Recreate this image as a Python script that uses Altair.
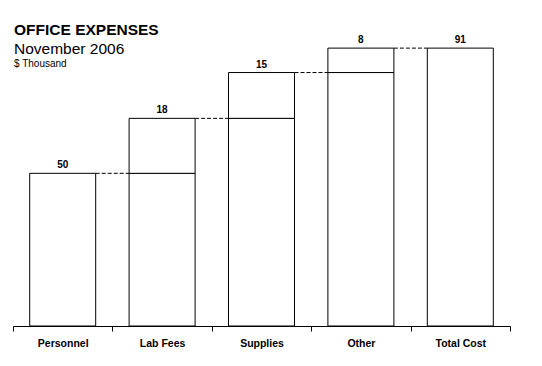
import altair as alt
import pandas as pd

categories = ["Personnel", "Lab Fees", "Supplies", "Other", "Total Cost"]
values = [50, 18, 15, 8, 91]
is_total = [False, False, False, False, True]

title_main = "OFFICE EXPENSES"
title_sub = "November 2006"
title_unit = "$ Thousand"

FONT = "Liberation Sans"
BAR_FRAC = 0.664

# build waterfall segments
rows = []
cum = 0
for c, v, t in zip(categories, values, is_total):
    if t:
        start, end = 0, v
    else:
        start, end = cum, cum + v
        cum = end
    rows.append({"cat": c, "start": start, "end": end, "value": v})
df = pd.DataFrame(rows)

# rectangles: lower (0..start) and upper (start..end)
rects = []
for r in rows:
    if r["start"] > 0:
        rects.append({"cat": r["cat"], "y0": 0, "y1": r["start"]})
    rects.append({"cat": r["cat"], "y0": r["start"], "y1": r["end"]})
rect_df = pd.DataFrame(rects)

conn = []
for i in range(len(rows) - 1):
    conn.append({"cat": rows[i]["cat"], "next": rows[i + 1]["cat"], "level": rows[i]["end"]})
conn_df = pd.DataFrame(conn)

xscale = alt.Scale(domain=categories, paddingInner=0, paddingOuter=0)
yscale = alt.Scale(domain=[0, 102.5], nice=False, zero=True)

xaxis = alt.Axis(
    title=None, labelAngle=0, labelFont=FONT, labelFontSize=10.5, labelFontWeight="bold",
    labelColor="black", domainColor="black", tickColor="black", tickSize=5,
    tickBand="extent", labelPadding=7, domainWidth=1, tickWidth=1, grid=False,
)

bars = alt.Chart(rect_df).mark_bar(
    fill="white", stroke="black", strokeWidth=1, width=alt.RelativeBandSize(BAR_FRAC)
).encode(
    x=alt.X("cat:N", scale=xscale, axis=xaxis, sort=categories),
    y=alt.Y("y0:Q", scale=yscale, axis=None),
    y2="y1:Q",
)

connectors = alt.Chart(conn_df).mark_rule(color="black", strokeWidth=1, strokeDash=[4, 2]).encode(
    x=alt.X("cat:N", scale=xscale, sort=categories, bandPosition=0.5 + BAR_FRAC / 2),
    x2=alt.X2("next:N", bandPosition=0.5 - BAR_FRAC / 2),
    y=alt.Y("level:Q", scale=yscale),
)

labels = alt.Chart(df).mark_text(
    font=FONT, fontSize=10, fontWeight="bold", color="black", baseline="alphabetic", dy=-5
).encode(
    x=alt.X("cat:N", scale=xscale, sort=categories),
    y=alt.Y("end:Q", scale=yscale),
    text="value:Q",
)

t1 = alt.Chart(pd.DataFrame({"t": [title_main]})).mark_text(
    font=FONT, fontSize=15.5, fontWeight="bold", align="left", baseline="alphabetic", color="black"
).encode(x=alt.value(1), y=alt.value(22), text="t:N")
t2 = alt.Chart(pd.DataFrame({"t": [title_sub]})).mark_text(
    font=FONT, fontSize=15.5, align="left", baseline="alphabetic", color="black"
).encode(x=alt.value(1), y=alt.value(40.5), text="t:N")
t3 = alt.Chart(pd.DataFrame({"t": [title_unit]})).mark_text(
    font=FONT, fontSize=10, align="left", baseline="alphabetic", color="black"
).encode(x=alt.value(1), y=alt.value(53.5), text="t:N")

chart = alt.layer(bars, connectors, labels, t1, t2, t3).properties(
    width=497, height=313,
    background="white",
    autosize=alt.AutoSizeParams(type="none"),
    padding={"left": 5, "top": 5, "right": 20, "bottom": 30},
).configure_view(stroke=None)

chart.save("out.html", embed_options={"renderer": "svg", "actions": False})
